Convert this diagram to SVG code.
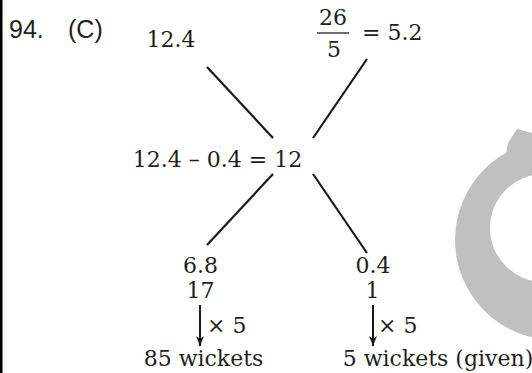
<svg xmlns="http://www.w3.org/2000/svg" width="532" height="373" viewBox="0 0 532 373">
<style>
.t{font-family:"DejaVu Serif","Liberation Serif",serif;font-size:22px;fill:#231f20}
.m{text-anchor:middle}
.h{font-family:"Liberation Sans",Arial,sans-serif;font-size:25px;fill:#231f20}
.ln{stroke:#1a1a1a;stroke-width:2.2;fill:none;stroke-linecap:butt}
.ar{stroke:#1a1a1a;stroke-width:2;fill:none}
.wm{fill:#c0c0c0}
</style>
<defs>
<marker id="ah" viewBox="0 0 10 8" refX="10" refY="4" markerWidth="10" markerHeight="8" markerUnits="userSpaceOnUse" orient="auto">
<path d="M0,0 L10,4 L0,8 L3,4 Z" fill="#1a1a1a"/>
</marker>
</defs>
<rect x="0" y="0" width="2.5" height="373" fill="#000"/>
<g id="watermark">
<path class="wm" fill-rule="evenodd" d="M655,240 A100,100 0 1,1 455,240 A100,100 0 1,1 655,240 Z M598,228 A54,54 0 1,0 490,228 A54,54 0 1,0 598,228 Z"/>
<polygon class="wm" points="504,160 506,154 508,143 517,129 532,133 532,160"/>
</g>
<g id="title"><text class="h" x="9" y="38">94.</text><text class="h" x="68" y="38">(C)</text></g>
<g id="connectors">
<line class="ln" x1="207" y1="67" x2="273" y2="138"/>
<line class="ln" x1="367" y1="59" x2="313" y2="138"/>
<line class="ln" x1="273" y1="174" x2="207" y2="245"/>
<line class="ln" x1="313" y1="174" x2="367" y2="253"/>
<line class="ar" x1="200" y1="305" x2="200" y2="346" marker-end="url(#ah)"/>
<line class="ar" x1="373" y1="305" x2="373" y2="346" marker-end="url(#ah)"/>
<text class="t" x="207" y="333">× 5</text>
<text class="t" x="378" y="333">× 5</text>
</g>
<g id="n-topleft"><text class="t m" x="171" y="47">12.4</text></g>
<g id="n-topright">
<text class="t m" x="333" y="25">26</text>
<line x1="317" y1="33" x2="349" y2="33" stroke="#231f20" stroke-width="1.3"/>
<text class="t m" x="334" y="57">5</text>
<text class="t" x="362" y="40">= 5.2</text>
</g>
<g id="n-center"><text class="t m" x="217.5" y="167">12.4 – 0.4 = 12</text></g>
<g id="n-left"><text class="t m" x="200.5" y="273">6.8</text><text class="t m" x="200.5" y="298">17</text></g>
<g id="n-right"><text class="t m" x="373" y="273">0.4</text><text class="t m" x="372.5" y="298">1</text></g>
<g id="n-left-result"><text class="t m" x="203.5" y="366">85 wickets</text></g>
<g id="n-right-result"><text class="t m" x="438" y="366">5 wickets (given)</text></g>
</svg>
